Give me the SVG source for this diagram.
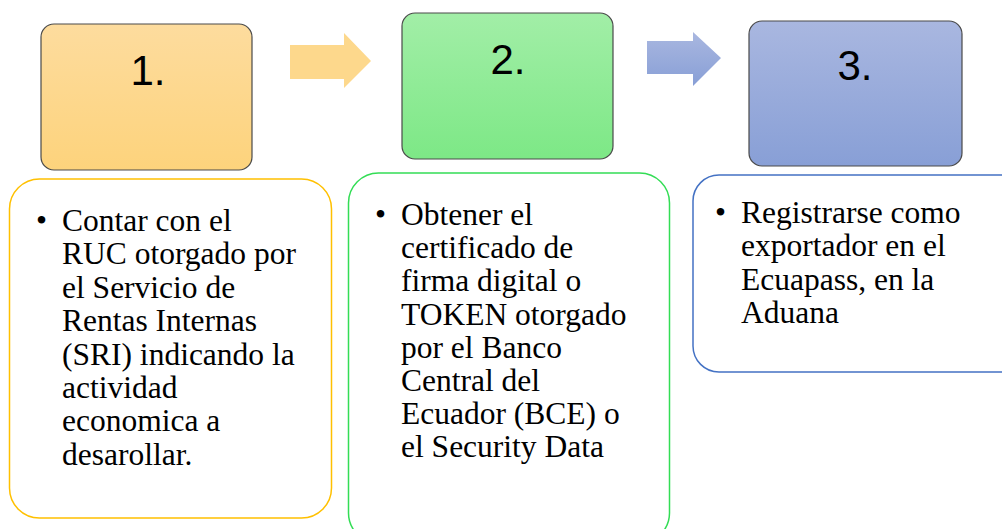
<svg xmlns="http://www.w3.org/2000/svg" width="1002" height="529" viewBox="0 0 1002 529">
<defs>
<linearGradient id="gOr" x1="0" y1="0" x2="0" y2="1"><stop offset="0" stop-color="#FDDC9E"/><stop offset="1" stop-color="#FDD37C"/></linearGradient>
<linearGradient id="gGr" x1="0" y1="0" x2="0" y2="1"><stop offset="0" stop-color="#A2EEA7"/><stop offset="1" stop-color="#7DE886"/></linearGradient>
<linearGradient id="gBl" x1="0" y1="0" x2="0" y2="1"><stop offset="0" stop-color="#A9B7E0"/><stop offset="1" stop-color="#889FD6"/></linearGradient>
<style>
.head{stroke:#4a4a4a;stroke-width:1.2}
.num{font-family:'Liberation Sans',Arial,sans-serif;font-size:42px;fill:#000;text-anchor:middle}
.card{fill:#fff;stroke-width:1.5}
.txt{font-family:'Liberation Serif','Times New Roman',serif;font-size:31.5px;fill:#000}
</style>
</defs>
<g id="connectors">
<polygon points="290,45 344,45 344,33 371,61 344,88 344,79 290,79" fill="#FDD88C"/>
<polygon points="647,41 693,41 693,32 721,58 693,86 693,74 647,74" fill="url(#gBl)"/>
</g>
<g id="node1">
<rect class="head" x="41" y="24" width="211" height="146" rx="13" fill="url(#gOr)"/>
<text class="num" x="148" y="85">1.</text>
</g>
<g id="node2">
<rect class="head" x="402" y="13" width="211" height="146" rx="13" fill="url(#gGr)"/>
<text class="num" x="508" y="74">2.</text>
</g>
<g id="node3">
<rect class="head" x="749" y="21" width="213" height="145" rx="13" fill="url(#gBl)"/>
<text class="num" x="855" y="80">3.</text>
</g>
<g id="card1">
<rect class="card" x="9.5" y="179" width="322" height="339" rx="30" stroke="#FFC000"/>
<text class="txt" x="36" y="231">•</text>
<text class="txt">
<tspan x="62" y="231">Contar con el</tspan>
<tspan x="62" y="264.4">RUC otorgado por</tspan>
<tspan x="62" y="297.8">el Servicio de</tspan>
<tspan x="62" y="331.2">Rentas Internas</tspan>
<tspan x="62" y="364.6">(SRI) indicando la</tspan>
<tspan x="62" y="398">actividad</tspan>
<tspan x="62" y="431.4">economica a</tspan>
<tspan x="62" y="464.8">desarollar.</tspan>
</text>
</g>
<g id="card2">
<rect class="card" x="348.5" y="173" width="321" height="370" rx="30" stroke="#33DD55"/>
<text class="txt" x="375" y="225">•</text>
<text class="txt">
<tspan x="401" y="225">Obtener el</tspan>
<tspan x="401" y="258.2">certificado de</tspan>
<tspan x="401" y="291.4">firma digital o</tspan>
<tspan x="401" y="324.6">TOKEN otorgado</tspan>
<tspan x="401" y="357.8">por el Banco</tspan>
<tspan x="401" y="391">Central del</tspan>
<tspan x="401" y="424.2">Ecuador (BCE) o</tspan>
<tspan x="401" y="457.4">el Security Data</tspan>
</text>
</g>
<g id="card3">
<rect class="card" x="693" y="175" width="340" height="197" rx="26" stroke="#4472C4"/>
<text class="txt" x="715" y="223">•</text>
<text class="txt">
<tspan x="741" y="223">Registrarse como</tspan>
<tspan x="741" y="256.3">exportador en el</tspan>
<tspan x="741" y="289.6">Ecuapass, en la</tspan>
<tspan x="741" y="322.9">Aduana</tspan>
</text>
</g>
</svg>
